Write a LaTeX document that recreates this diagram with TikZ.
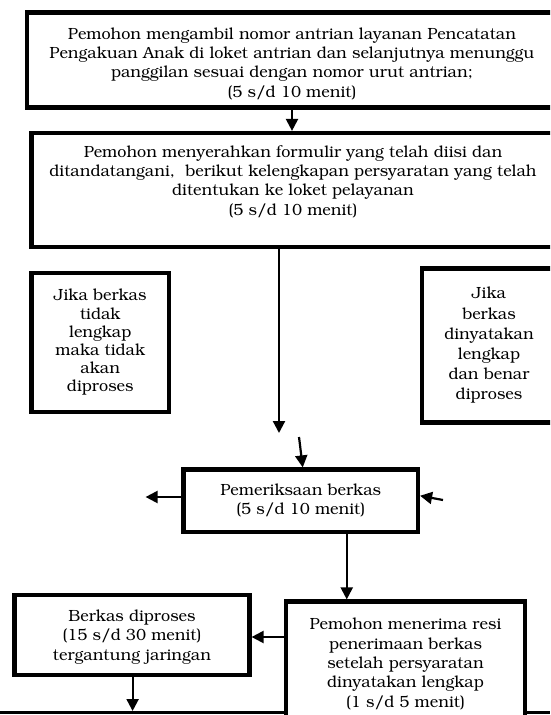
\documentclass[tikz,border=0pt]{standalone}
\usepackage[T1]{fontenc}
\usepackage{bookman}
\usetikzlibrary{arrows.meta}

\begin{document}
\begin{tikzpicture}[x=1pt,y=1pt,
		box/.style={draw,line width=4.2pt,fill=white,align=center,inner sep=0pt,font=\fontsize{16.2}{19.3}\selectfont},
		arr/.style={line width=2.2pt,-{Triangle[width=12pt,length=12pt]}}]
		\useasboundingbox (0,0) rectangle (550,-715);
		\clip (0,0) rectangle (550,-715);

		\draw[line width=3pt] (0,-712.5) -- (550,-712.5);

		\node[box,minimum width=530pt,minimum height=95pt,text height=74pt,text depth=0pt] (ambil) at (292,-60) {Pemohon mengambil nomor antrian layanan Pencatatan\\Pengakuan Anak di loket antrian dan selanjutnya menunggu\\panggilan sesuai dengan nomor urut antrian;\\(5 s/d 10 menit)};
		\node[box,minimum width=523pt,minimum height=114pt,text height=50pt,text depth=0pt] (serah) at (293,-190) {Pemohon menyerahkan formulir yang telah diisi dan\\ditandatangani,\ \ berikut kelengkapan persyaratan yang telah\\ditentukan ke loket pelayanan\\(5 s/d 10 menit)};
		\node[box,minimum width=137.5pt,minimum height=139pt,font=\fontsize{16.2}{18.2}\selectfont] (tidak) at (100.25,-342.5) {Jika berkas\\tidak\\lengkap\\maka tidak\\akan\\diproses};
		\node[box,minimum width=134pt,minimum height=154pt,font=\fontsize{16.2}{20.2}\selectfont] (benar) at (489,-345.5) {Jika\\berkas\\dinyatakan\\lengkap\\dan benar\\diproses};
		\node[box,minimum width=234.5pt,minimum height=62.5pt] (periksa) at (300.75,-500.75) {Pemeriksaan berkas\\(5 s/d 10 menit)};
		\node[box,minimum width=239pt,minimum height=125pt] (resi) at (405.5,-664) {Pemohon menerima resi\\penerimaan berkas\\setelah persyaratan\\dinyatakan lengkap\\(1 s/d 5 menit)};
		\node[box,minimum width=235pt,minimum height=80pt,text height=50pt,text depth=0pt] (proses) at (132,-635) {Berkas diproses\\(15 s/d 30 menit)\\tergantung jaringan};

		\coordinate (turun) at (279,-433);
		\coordinate (masuk) at (299,-437);
		\coordinate (kiri) at (145.6,-497);
		\coordinate (kanan) at (443,-500);
		\coordinate (akhir) at (132.6,-711);

		\draw[arr] (ambil.south) -- (ambil.south |- serah.north);
		\draw[arr] (serah.south -| turun) -- (turun);
		\draw[arr] (masuk) -- ([xshift=2pt]periksa.north);
		\draw[arr] (periksa.west |- kiri) -- (kiri);
		\draw[arr] (kanan) -- ([yshift=5pt]periksa.east);
		\draw[arr] ([xshift=46pt]periksa.south) -- ([xshift=46pt]periksa.south |- resi.north);
		\draw[arr] ([yshift=-2pt]resi.west |- proses.east) -- ([yshift=-2pt]proses.east);
		\draw[arr] (proses.south -| akhir) -- (akhir);
	\end{tikzpicture}
\end{document}
